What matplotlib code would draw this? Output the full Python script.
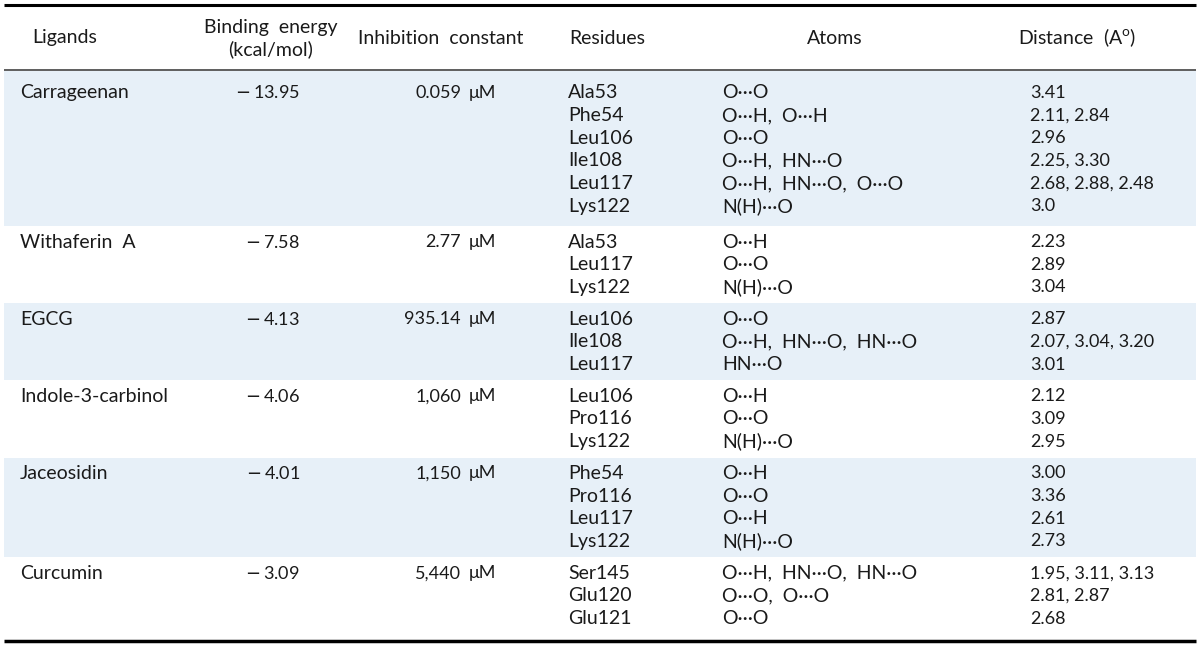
import matplotlib.pyplot as plt
from matplotlib.patches import Rectangle

# table content
ligands = ["Carrageenan", "Withaferin  A", "EGCG", "Indole-3-carbinol", "Jaceosidin", "Curcumin"]
energies = ["13.95", "7.58", "4.13", "4.06", "4.01", "3.09"]  # all negative
constants = ["0.059", "2.77", "935.14", "1,060", "1,150", "5,440"]
residues = [
    ["Ala53", "Phe54", "Leu106", "Ile108", "Leu117", "Lys122"],
    ["Ala53", "Leu117", "Lys122"],
    ["Leu106", "Ile108", "Leu117"],
    ["Leu106", "Pro116", "Lys122"],
    ["Phe54", "Pro116", "Leu117", "Lys122"],
    ["Ser145", "Glu120", "Glu121"],
]
d = "\u00b7\u00b7\u00b7"
atoms = [
    [f"O{d}O", f"O{d}H,  O{d}H", f"O{d}O", f"O{d}H,  HN{d}O", f"O{d}H,  HN{d}O,  O{d}O", f"N(H){d}O"],
    [f"O{d}H", f"O{d}O", f"N(H){d}O"],
    [f"O{d}O", f"O{d}H,  HN{d}O,  HN{d}O", f"HN{d}O"],
    [f"O{d}H", f"O{d}O", f"N(H){d}O"],
    [f"O{d}H", f"O{d}O", f"O{d}H", f"N(H){d}O"],
    [f"O{d}H,  HN{d}O,  HN{d}O", f"O{d}O,  O{d}O", f"O{d}O"],
]
distances = [
    ["3.41", "2.11, 2.84", "2.96", "2.25, 3.30", "2.68, 2.88, 2.48", "3.0"],
    ["2.23", "2.89", "3.04"],
    ["2.87", "2.07, 3.04, 3.20", "3.01"],
    ["2.12", "3.09", "2.95"],
    ["3.00", "3.36", "2.61", "2.73"],
    ["1.95, 3.11, 3.13", "2.81, 2.87", "2.68"],
]

plt.rcParams['font.family'] = ['Lato', 'DejaVu Sans']
fs = 14      # words
fn = 13      # numbers
tc = '#1a1a1a'

fig = plt.figure(figsize=(12, 6.46), dpi=100)
ax = fig.add_axes([0, 0, 1, 1])
ax.set_xlim(0, 1200)
ax.set_ylim(646, 0)
ax.axis('off')

# header
ax.text(65, 38, "Ligands", ha='center', va='center', fontsize=fs, color=tc)
ax.text(271, 27, "Binding  energy", ha='center', va='center', fontsize=fs, color=tc)
ax.text(271, 49, "(kcal/mol)", ha='center', va='center', fontsize=fs, color=tc)
ax.text(441, 38, "Inhibition  constant", ha='center', va='center', fontsize=fs, color=tc)
ax.text(607, 38, "Residues", ha='center', va='center', fontsize=fs, color=tc)
ax.text(835, 38, "Atoms", ha='center', va='center', fontsize=fs, color=tc)
ax.text(1077, 38, r"Distance  (A$^\mathregular{o}$)", ha='center', va='center', fontsize=fs, color=tc)

ax.plot([4, 1196], [5, 5], color='black', lw=2.2, solid_capstyle='butt')
ax.plot([4, 1196], [70, 70], color='#333333', lw=1.1, solid_capstyle='butt')

step = 22.7
top = 71
for g in range(len(ligands)):
    n = len(residues[g])
    extra_top = 6 if g == 0 else 0
    extra_bot = 4 if g == 0 else 0
    h = n * step + 9 + extra_top + extra_bot
    if g % 2 == 0:
        ax.add_patch(Rectangle((4, top), 1192, h, facecolor='#e7f0f8', edgecolor='none', zorder=0))
    y0 = top + extra_top + 4.5 + step / 2
    ax.text(20, y0, ligands[g], ha='left', va='center', fontsize=fs, color=tc)
    ax.text(300, y0, r"$-\,$" + energies[g], ha='right', va='center', fontsize=fn, color=tc)
    ax.text(461, y0, constants[g], ha='right', va='center', fontsize=fn, color=tc)
    ax.text(469, y0, "\u03bcM", ha='left', va='center', fontsize=fn, color=tc)
    for i in range(n):
        y = y0 + i * step
        ax.text(568, y, residues[g][i], ha='left', va='center', fontsize=fs, color=tc)
        ax.text(722, y, atoms[g][i], ha='left', va='center', fontsize=fs, color=tc)
        ax.text(1030, y, distances[g][i], ha='left', va='center', fontsize=fn, color=tc)
    top += h

ax.plot([4, 1196], [641, 641], color='black', lw=2.5, solid_capstyle='butt')

fig.savefig('out.png', dpi=100, facecolor='white')
